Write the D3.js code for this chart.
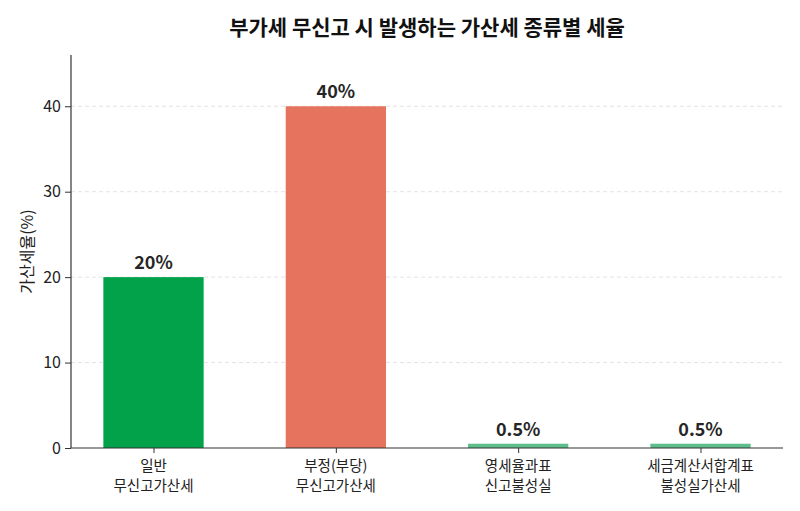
<!DOCTYPE html>
<html>
<head>
<meta charset="utf-8">
<script src="https://cdn.jsdelivr.net/npm/d3@7"></script>
<style>
  body { margin: 0; background: #fff; }
  text { font-family: "Noto Sans CJK KR", "Noto Sans", sans-serif; }
</style>
</head>
<body>
<div id="chart"></div>
<script>
// data
var categories = [["일반", "무신고가산세"], ["부정(부당)", "무신고가산세"], ["영세율과표", "신고불성실"], ["세금계산서합계표", "불성실가산세"]];
var rates = [20, 40, 0.5, 0.5];
var rateLabels = ["20%", "40%", "0.5%", "0.5%"];
var barColors = ["#02a24a", "#e5735e", "#5cbf8b", "#5cbf8b"];
var yTicks = [0, 10, 20, 30, 40];

var margin = {top: 55, right: 17, bottom: 63, left: 71},
    width = 800 - margin.left - margin.right,
    height = 511 - margin.top - margin.bottom;

var svg = d3.select("#chart")
  .append("svg")
  .attr("width", 800)
  .attr("height", 511)
  .append("g")
  .attr("transform", "translate(" + margin.left + "," + margin.top + ")");

var barW = 0.55;
var x = d3.scaleLinear()
  .domain([-0.4525, categories.length - 1 + 0.4525])
  .range([0, width]);
var y = d3.scaleLinear()
  .domain([0, 46])
  .range([height, 0]);

// grid
svg.selectAll("grid")
  .data(yTicks.filter(function(d){ return d > 0; }))
  .enter()
  .append("line")
    .attr("x1", 0)
    .attr("x2", width)
    .attr("y1", function(d){ return y(d); })
    .attr("y2", function(d){ return y(d); })
    .attr("stroke", "#dcdcdc")
    .attr("stroke-width", 0.8)
    .attr("stroke-dasharray", "4,3");

// bars
svg.selectAll("bars")
  .data(rates)
  .enter()
  .append("rect")
    .attr("x", function(d, i){ return x(i - barW / 2); })
    .attr("width", function(){ return x(barW) - x(0); })
    .attr("y", function(d){ return y(d); })
    .attr("height", function(d){ return height - y(d); })
    .attr("fill", function(d, i){ return barColors[i]; });

// value labels
svg.selectAll("vals")
  .data(rates)
  .enter()
  .append("text")
    .attr("x", function(d, i){ return x(i); })
    .attr("y", function(d){ return y(d) - 8; })
    .attr("text-anchor", "middle")
    .style("font-size", "18px")
    .style("font-weight", "bold")
    .style("fill", "#262626")
    .text(function(d, i){ return rateLabels[i]; });

// axes
var yAxis = svg.append("g")
  .call(d3.axisLeft(y).tickValues(yTicks).tickSize(6).tickPadding(4));
var xAxis = svg.append("g")
  .attr("transform", "translate(0," + height + ")")
  .call(d3.axisBottom(x).tickValues(d3.range(categories.length)).tickSize(5).tickFormat(""));

[yAxis, xAxis].forEach(function(a){
  a.select(".domain").attr("stroke", "#333").attr("stroke-width", 1.2);
  a.selectAll(".tick line").attr("stroke", "#333").attr("stroke-width", 1);
});
yAxis.select(".domain").attr("d", "M0," + height + "V0");
xAxis.select(".domain").attr("d", "M0,0H" + width);
yAxis.selectAll(".tick text")
  .style("font-size", "16px")
  .style("fill", "#222")
  .style("font-family", "'Noto Sans CJK KR', sans-serif");

// category labels
var cat = svg.selectAll("cats")
  .data(categories)
  .enter()
  .append("text")
    .attr("x", function(d, i){ return x(i); })
    .attr("y", height + 23)
    .attr("text-anchor", "middle")
    .style("font-size", "14.5px")
    .style("fill", "#222");
cat.selectAll("tspan")
  .data(function(d){ return d; })
  .enter()
  .append("tspan")
    .attr("x", function(){ return d3.select(this.parentNode).attr("x"); })
    .attr("dy", function(d, j){ return j === 0 ? 0 : 20; })
    .text(function(d){ return d; });

// y label
svg.append("text")
  .attr("transform", "translate(" + (-38) + "," + (height / 2) + ") rotate(-90)")
  .attr("text-anchor", "middle")
  .style("font-size", "16px")
  .style("fill", "#222")
  .text("가산세율(%)");

// title
svg.append("text")
  .attr("x", width / 2)
  .attr("y", -20)
  .attr("text-anchor", "middle")
  .style("font-size", "21px")
  .style("font-weight", "bold")
  .style("fill", "#111")
  .text("부가세 무신고 시 발생하는 가산세 종류별 세율");
</script>
</body>
</html>
